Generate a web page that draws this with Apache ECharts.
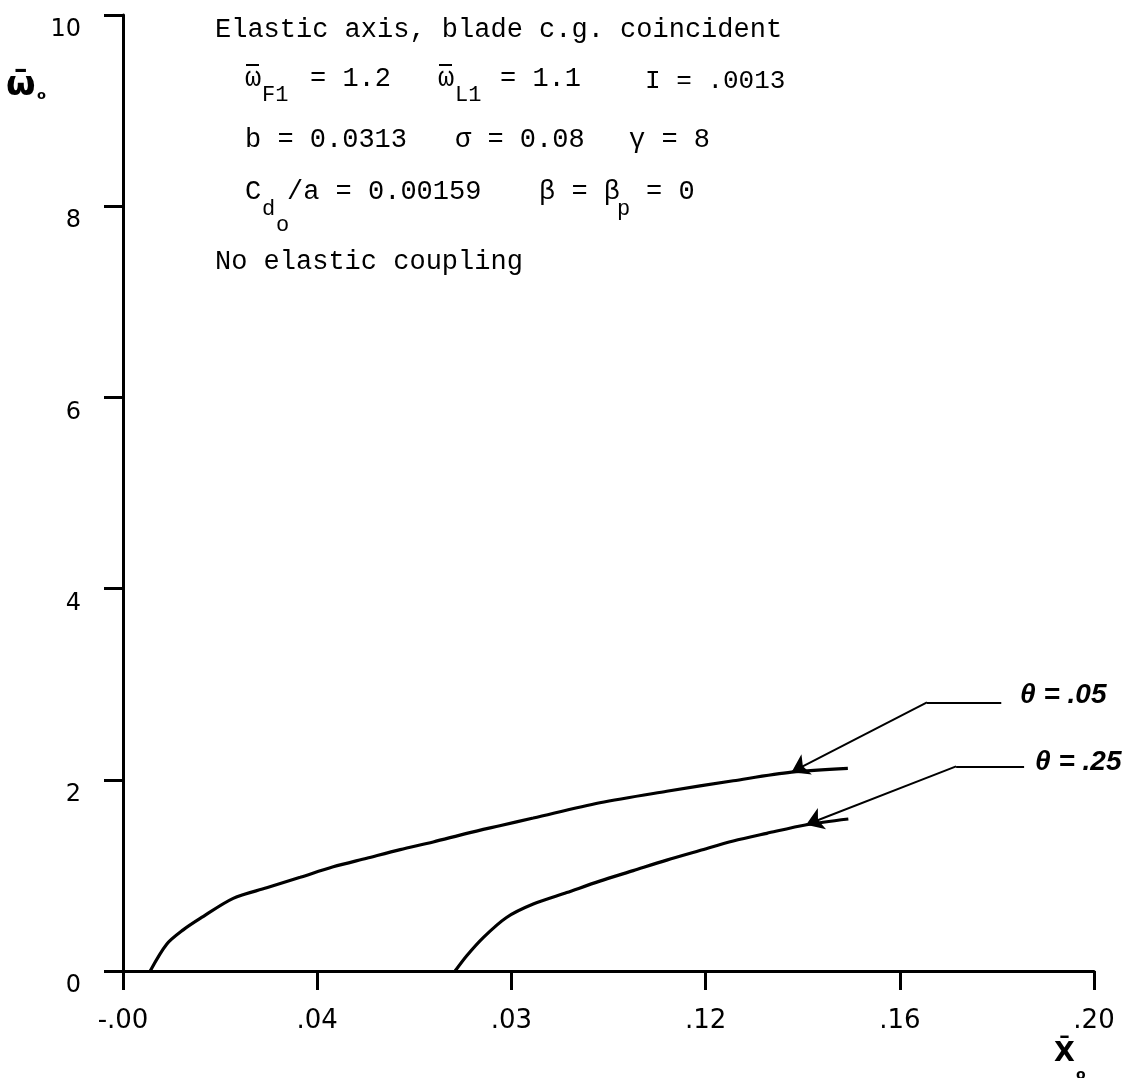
<!DOCTYPE html>
<html>
<head>
<meta charset="utf-8">
<script src="https://cdn.jsdelivr.net/npm/echarts@6/dist/echarts.min.js"></script>
<style>
  html, body { margin: 0; padding: 0; background: #ffffff; }
  #chart { width: 1133px; height: 1078px; }
</style>
</head>
<body>
<div id="chart"></div>
<script>
// Axis tick labels, as printed on the figure
const xTickLabels = ['-.00', '.04', '.03', '.12', '.16', '.20'];
const yTickLabels = ['0', '2', '4', '6', '8', '10'];

// theta = .05 branch (X-bar, omega-bar)
const theta05X = [0.0056, 0.0090, 0.0124, 0.0159, 0.0227, 0.0296, 0.0365, 0.0433, 0.0502, 0.0571, 0.0639, 0.0708, 0.0776, 0.0845, 0.0982, 0.1120, 0.1257, 0.1377, 0.1493];
const theta05Y = [0.00, 0.28, 0.43, 0.55, 0.76, 0.87, 0.98, 1.09, 1.18, 1.27, 1.35, 1.44, 1.52, 1.60, 1.76, 1.88, 1.99, 2.08, 2.12];

// theta = .25 branch
const theta25X = [0.0684, 0.0708, 0.0742, 0.0790, 0.0845, 0.0914, 0.0982, 0.1051, 0.1120, 0.1188, 0.1257, 0.1326, 0.1408, 0.1494];
const theta25Y = [0.00, 0.16, 0.35, 0.56, 0.70, 0.82, 0.94, 1.05, 1.16, 1.26, 1.36, 1.44, 1.53, 1.59];

// Leader lines from the curve labels (label end, elbow, arrow tip) in data units
const leader05 = [[0.1809, 2.81], [0.1656, 2.81], [0.1377, 2.08]];
const leader25 = [[0.1856, 2.14], [0.1716, 2.14], [0.1407, 1.53]];
const curveLabels = ['θ = .05', 'θ = .25'];

const zip = (xs, ys) => xs.map((x, i) => [x, ys[i]]);

const mono = '"Liberation Mono", "DejaVu Sans Mono", monospace';
const tickFont = '"DejaVu Sans", "Liberation Sans", sans-serif';
const sans = '"Liberation Sans", Arial, sans-serif';
const ink = '#000000';

function txt(x, y, s, size) {
  return {
    type: 'text', x: x, y: y, silent: true,
    style: { text: s, fill: ink, font: size + 'px ' + mono, verticalAlign: 'middle', align: 'left' }
  };
}

// omega with an overbar, typewriter style
function omegaBar(x, y) {
  return [
    txt(x, y, 'ω', 27),
    { type: 'line', silent: true,
      shape: { x1: x + 1, y1: y - 14, x2: x + 14, y2: y - 14 },
      style: { stroke: ink, lineWidth: 2 } }
  ];
}

const chart = echarts.init(document.getElementById('chart'), null, { renderer: 'canvas' });

const option = {
  backgroundColor: '#ffffff',
  animation: false,
  grid: { left: 123, right: 39, top: 15, bottom: 107, containLabel: false },
  xAxis: {
    type: 'value', min: 0, max: 0.2, interval: 0.04,
    axisLine: { show: true, lineStyle: { color: ink, width: 3 } },
    axisTick: { show: true, inside: false, length: 19, lineStyle: { color: ink, width: 3 } },
    splitLine: { show: false },
    axisLabel: {
      margin: 37, color: ink, fontSize: 26, fontFamily: tickFont,
      formatter: (v, i) => xTickLabels[i]
    }
  },
  yAxis: {
    type: 'value', min: 0, max: 10, interval: 2,
    axisLine: { show: true, lineStyle: { color: ink, width: 3 } },
    axisTick: { show: true, inside: false, length: 19, lineStyle: { color: ink, width: 3 } },
    splitLine: { show: false },
    axisLabel: {
      margin: 42, color: ink,
      formatter: (v, i) => '{t|' + yTickLabels[i] + '}',
      rich: { t: { fontSize: 24, fontFamily: tickFont, color: ink, padding: [30, 0, 0, 0] } }
    }
  },
  series: [
    {
      type: 'line', name: curveLabels[0], data: zip(theta05X, theta05Y),
      smooth: 0.3, showSymbol: false, lineStyle: { color: ink, width: 3.2 }
    },
    {
      type: 'line', name: curveLabels[1], data: zip(theta25X, theta25Y),
      smooth: 0.3, showSymbol: false, lineStyle: { color: ink, width: 3.2 }
    },
    {
      // horizontal parts of the leaders
      type: 'lines', coordinateSystem: 'cartesian2d', silent: true,
      symbol: ['none', 'none'],
      lineStyle: { color: ink, width: 2, opacity: 1, curveness: 0 },
      data: [
        { coords: [leader05[0], leader05[1]] },
        { coords: [leader25[0], leader25[1]] }
      ]
    },
    {
      // sloped parts ending in arrowheads on the curves
      type: 'lines', coordinateSystem: 'cartesian2d', silent: true,
      symbol: ['none', 'arrow'], symbolSize: 17,
      lineStyle: { color: ink, width: 2, opacity: 1, curveness: 0 },
      data: [
        { coords: [leader05[1], leader05[2]] },
        { coords: [leader25[1], leader25[2]] }
      ]
    }
  ],
  graphic: [
    // vertical axis title: omega-bar sub 0
    { type: 'text', x: 6, y: 86, silent: true,
      style: { text: 'ω̄', fill: ink, font: 'bold 34px "DejaVu Sans", sans-serif', verticalAlign: 'middle' } },
    { type: 'text', x: 37, y: 96, silent: true,
      style: { text: 'o', fill: ink, font: 'bold 13px "DejaVu Sans", sans-serif', verticalAlign: 'middle' } },
    // horizontal axis title: X-bar sub 0
    { type: 'text', x: 1054, y: 1054, silent: true,
      style: { text: 'X̄', fill: ink, font: 'bold 27px "DejaVu Sans", sans-serif', verticalAlign: 'middle' } },
    { type: 'text', x: 1076, y: 1075, silent: true,
      style: { text: 'o', fill: ink, font: 'bold 14px "DejaVu Sans", sans-serif', verticalAlign: 'middle' } },

    // parameter block
    txt(215, 30, 'Elastic axis, blade c.g. coincident', 27),

    ...omegaBar(245, 79),
    txt(262, 95, 'F1', 22),
    txt(310, 79, '= 1.2', 27),
    ...omegaBar(438, 79),
    txt(455, 95, 'L1', 22),
    txt(500, 79, '= 1.1', 27),
    txt(645, 81, 'I = .0013', 26),

    txt(245, 140, 'b = 0.0313', 27),
    txt(455, 140, 'σ = 0.08', 27),
    txt(629, 140, 'γ = 8', 27),

    txt(245, 192, 'C', 27),
    txt(262, 209, 'd', 22),
    txt(276, 225, 'o', 22),
    txt(287, 192, '/a = 0.00159', 27),
    txt(539, 192, 'β = β', 27),
    txt(617, 209, 'p', 22),
    txt(646, 192, '= 0', 27),

    txt(215, 262, 'No elastic coupling', 27),

    // curve labels
    { type: 'text', x: 1020, y: 695, silent: true,
      style: { text: curveLabels[0], fill: ink, font: 'italic bold 28px ' + sans, verticalAlign: 'middle' } },
    { type: 'text', x: 1035, y: 762, silent: true,
      style: { text: curveLabels[1], fill: ink, font: 'italic bold 28px ' + sans, verticalAlign: 'middle' } }
  ]
};

chart.setOption(option);
</script>
</body>
</html>
